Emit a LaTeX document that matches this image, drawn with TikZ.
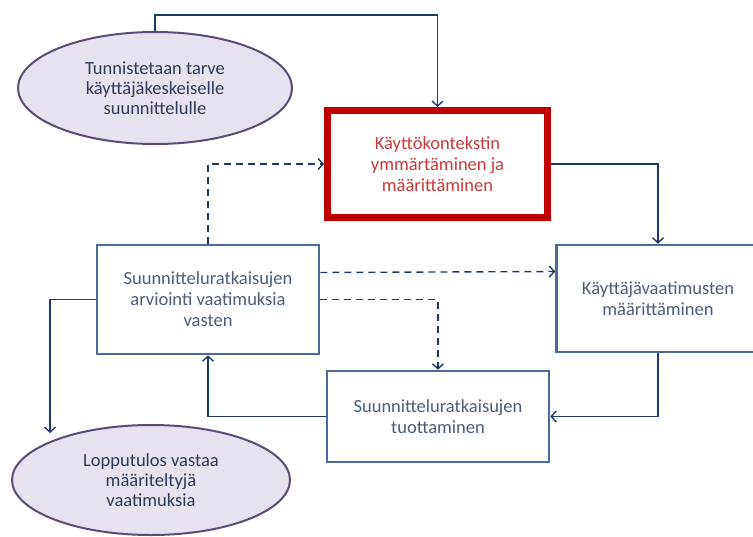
\documentclass[tikz,border=0pt]{standalone}
\usepackage{fontspec}
\setmainfont{Carlito}
\usetikzlibrary{arrows.meta,calc,shapes.geometric}

\definecolor{linknavy}{HTML}{1F3864}
\definecolor{boxblue}{HTML}{4A6B9C}
\definecolor{boxtext}{HTML}{4C5C7C}
\definecolor{ctxred}{HTML}{C00000}
\definecolor{ctxtext}{HTML}{C83A3A}
\definecolor{goalfill}{HTML}{E7E2EF}
\definecolor{goaldraw}{HTML}{5E4A78}
\definecolor{goaltext}{HTML}{2E3A5C}

\tikzset{
  box/.style={draw=boxblue,line width=2.6pt,fill=white,align=center,
    text=boxtext,font=\fontsize{18.5}{21}\selectfont,inner sep=0pt},
  redbox/.style={box,draw=ctxred,line width=7pt,text=ctxtext},
  goal/.style={ellipse,draw=goaldraw,line width=2pt,fill=goalfill,
    align=center,text=goaltext,font=\fontsize{18.5}{20}\selectfont,inner sep=0pt},
  flow/.style={draw=linknavy,line width=1.4pt,-{Straight Barb[length=5pt,width=11pt,line width=1.4pt]}},
  flowdash/.style={flow,dash pattern=on 7pt off 5pt}
}

\begin{document}
\begin{tikzpicture}[x=1pt,y=-1pt]
  \useasboundingbox (0,0) rectangle (753,536);

  % ellipses
  \node[goal,minimum width=274pt,minimum height=112pt] (need) at (155,88)
    {Tunnistetaan tarve\\käyttäjäkeskeiselle\\suunnittelulle};
  \node[goal,minimum width=278pt,minimum height=110pt] (result) at (151,480)
    {Lopputulos vastaa\\määriteltyjä\\vaatimuksia};

  % process boxes
  \node[redbox,minimum width=220pt,minimum height=107pt] (context) at (437.5,164)
    {Käyttökontekstin\\ymmärtäminen ja\\määrittäminen};
  \node[box,minimum width=203pt,minimum height=107pt] (req) at (658,298.5)
    {Käyttäjävaatimusten\\määrittäminen};
  \node[box,minimum width=222pt,minimum height=91pt] (design) at (438,416.5)
    {Suunnitteluratkaisujen\\tuottaminen};
  \node[box,minimum width=222pt,minimum height=109pt] (eval) at (208,299.5)
    {Suunnitteluratkaisujen\\arviointi vaatimuksia\\vasten};

  \coordinate (resIn) at (50,433);

  % main cycle
  \draw[flow] (need.north) -- ++(0,-16) -| (context.north);
  \draw[flow] (context.east) -| (req.north);
  \draw[flow] (req.south) |- (design.east);
  \draw[flow] (design.west) -| (eval.south);
  \draw[flow] (eval.west) -| (resIn);

  % iteration back
  \draw[flowdash] (eval.north) |- (context.west);
  \draw[flowdash] ([yshift=27pt]eval.east) -- ([yshift=27pt]req.west);
  \draw[flowdash] (eval.east) -| (design.north);
\end{tikzpicture}
\end{document}
